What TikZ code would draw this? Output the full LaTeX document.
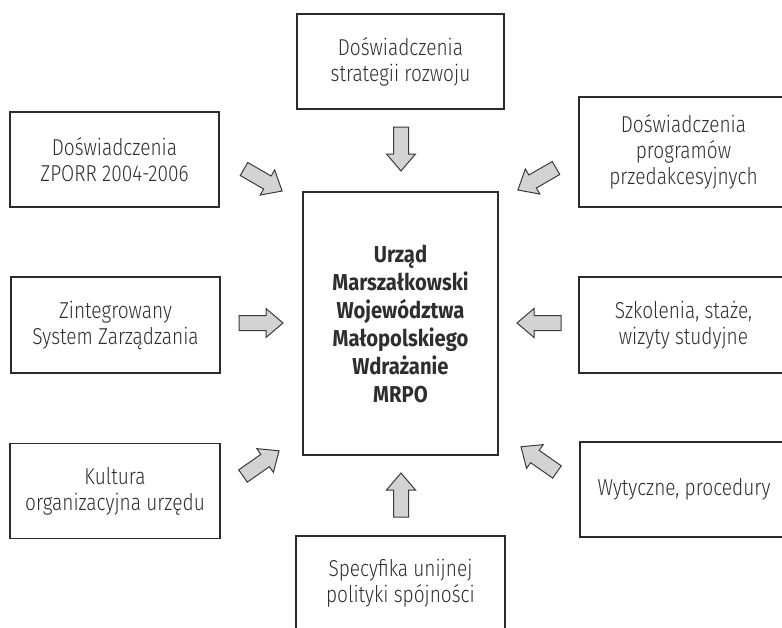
\documentclass[tikz,border=0pt]{standalone}
\usepackage{fontspec}
\setmainfont{Fira Sans}[UprightFont={* Light}, BoldFont={* Bold}, UprightFeatures={FakeStretch=0.83}, BoldFeatures={FakeStretch=0.88}]
\definecolor{boxc}{HTML}{2B2B2B}
\definecolor{txtc}{HTML}{2E2E2E}
\definecolor{arrfill}{HTML}{D3D3D3}
\definecolor{arrline}{HTML}{3A3A3A}
\tikzset{
  box/.style={draw=boxc, line width=1.6pt, align=center, text=txtc, inner sep=0pt,
    font=\fontsize{23}{26}\selectfont},
  sidebox/.style={box, minimum width=209pt, minimum height=95pt},
  centerbox/.style={box, minimum width=195pt, minimum height=263pt,
    font=\bfseries\fontsize{23}{28}\selectfont},
  arrsty/.style={fill=arrfill, draw=arrline, line width=1pt, line join=miter},
  blockarrow/.pic={\path[arrsty] (0,-7.5) -- (27,-7.5) -- (27,-14.5) -- (44,0) -- (27,14.5) -- (27,7.5) -- (0,7.5) -- cycle;}
}
\begin{document}
\begin{tikzpicture}[x=1pt,y=-1pt]
\useasboundingbox (0,0) rectangle (782,627);
% boxes
\node[sidebox, minimum width=207pt] (top) at (400.5,61.5) {Doświadczenia\\strategii rozwoju};
\node[sidebox] (tl) at (114.5,159.5) {Doświadczenia\\ZPORR 2004-2006};
\node[sidebox, minimum height=110pt] (tr) at (683.5,152) {Doświadczenia\\programów\\przedakcesyjnych};
\node[sidebox, minimum height=96pt] (ml) at (115.5,325) {Zintegrowany\\System Zarządzania};
\node[sidebox, minimum height=96pt] (mr) at (683.5,325) {Szkolenia, staże,\\wizyty studyjne};
\node[sidebox, minimum width=210pt] (bl) at (115,491) {Kultura\\organizacyjna urzędu};
\node[sidebox, minimum width=208pt] (br) at (684,489.5) {Wytyczne, procedury};
\node[sidebox, minimum height=94pt] (bot) at (400.5,583) {Specyfika unijnej\\polityki spójności};
\node[centerbox] (c) at (400.5,323.5) {Urząd\\Marszałkowski\\Województwa\\Małopolskiego\\Wdrażanie\\MRPO};
% block arrows (tails)
\coordinate (atop) at (401,127);
\coordinate (abot) at (401,517);
\coordinate (aml) at (239,323);
\coordinate (amr) at (561,323);
\coordinate (atl) at (244,169);
\coordinate (atr) at (556,168);
\coordinate (abl) at (243,476);
\coordinate (abr) at (557,472);
\pic[rotate=-90] at (atop) {blockarrow};
\pic[rotate=90] at (abot) {blockarrow};
\pic[rotate=0] at (aml) {blockarrow};
\pic[rotate=180] at (amr) {blockarrow};
\pic[rotate=-30] at (atl) {blockarrow};
\pic[rotate=-150] at (atr) {blockarrow};
\pic[rotate=35] at (abl) {blockarrow};
\pic[rotate=145] at (abr) {blockarrow};
\end{tikzpicture}
\end{document}
